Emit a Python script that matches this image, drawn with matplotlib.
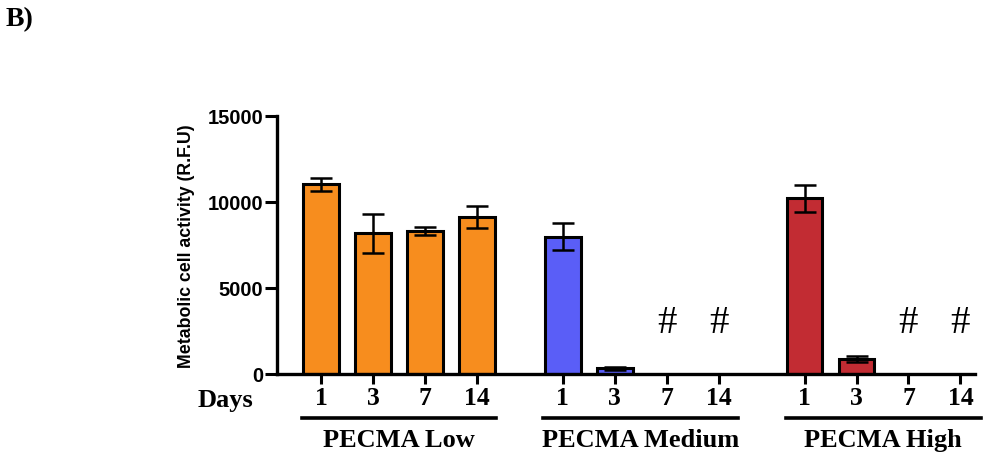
import matplotlib
matplotlib.use("Agg")
import matplotlib.pyplot as plt
from matplotlib.lines import Line2D

# ---- data ----
groups = ["PECMA Low", "PECMA Medium", "PECMA High"]
days = ["1", "3", "7", "14"]
low_vals = [11030, 8180, 8330, 9130]
low_err = [370, 1120, 230, 650]
med_vals = [7980, 330, 0, 0]
med_err = [780, 80, 0, 0]
high_vals = [10210, 870, 0, 0]
high_err = [770, 190, 0, 0]
marks = ["", "", "#", "#"]
yticks = [0, 5000, 10000, 15000]

colors = ["#F78D1E", "#5A5EF7", "#C22C33"]
group_vals = [low_vals, med_vals, high_vals]
group_errs = [low_err, med_err, high_err]
offsets = [0.0, 4.65, 9.3]

fig = plt.figure(figsize=(10.05, 4.56), dpi=100)
W, H = 1005, 456
ax = fig.add_axes([277 / W, 1 - 375 / H, (975 - 277) / W, (375 - 117) / H])

sans = "Liberation Sans"
serif = "Liberation Serif"

xs_all, labels_all = [], []
for gi, (vals, errs, col, off) in enumerate(zip(group_vals, group_errs, colors, offsets)):
    xs = [off + i for i in range(len(days))]
    for x, v, e, m in zip(xs, vals, errs, marks):
        if v > 0:
            ax.bar(x, v, width=0.69, color=col, edgecolor="black", linewidth=2.2, zorder=2)
            ax.errorbar(x, v, yerr=e, fmt="none", ecolor="black", elinewidth=1.8,
                        capsize=8, capthick=1.8, zorder=3)
        if gi > 0 and m:
            ax.text(x, 3000, m, ha="center", va="center", fontsize=28,
                    family=serif, color="black")
    xs_all += xs
    labels_all += days

ax.set_xlim(-0.85, 12.58)
ax.set_ylim(0, 15000)
ax.set_xticks(xs_all)
ax.set_xticklabels(labels_all, family=serif, fontweight="bold", fontsize=18.5)
ax.set_yticks(yticks)
ax.set_yticklabels([str(t) for t in yticks], family=sans, fontweight="bold", fontsize=14.5)
ax.tick_params(axis="x", length=7.5, width=2.2, pad=1)
ax.tick_params(axis="y", length=9, width=2.2, pad=1)
for s in ["top", "right"]:
    ax.spines[s].set_visible(False)
for s in ["left", "bottom"]:
    ax.spines[s].set_linewidth(2.4)

ax.set_ylabel("Metabolic cell activity (R.F.U)", family=sans, fontweight="bold",
              fontsize=12.8, labelpad=9)

tr = ax.get_xaxis_transform()
spans = [(-0.37, 3.36), (4.27, 8.02), (8.94, 12.69)]
for (a, b), g in zip(spans, groups):
    ax.add_line(Line2D([a, b], [-0.1705, -0.1705], transform=tr, color="black",
                       linewidth=2.6, clip_on=False))
    ax.text((a + b) / 2, -0.252, g, transform=tr, ha="center", va="center",
            family=serif, fontweight="bold", fontsize=19)

ax.text(-1.84, -0.099, "Days", transform=tr, ha="center", va="center",
        family=serif, fontweight="bold", fontsize=19)

fig.text(6 / W, 1 - 20 / H, "B)", ha="left", va="center", family=serif,
         fontweight="bold", fontsize=20)

fig.savefig("out.png", dpi=100)
